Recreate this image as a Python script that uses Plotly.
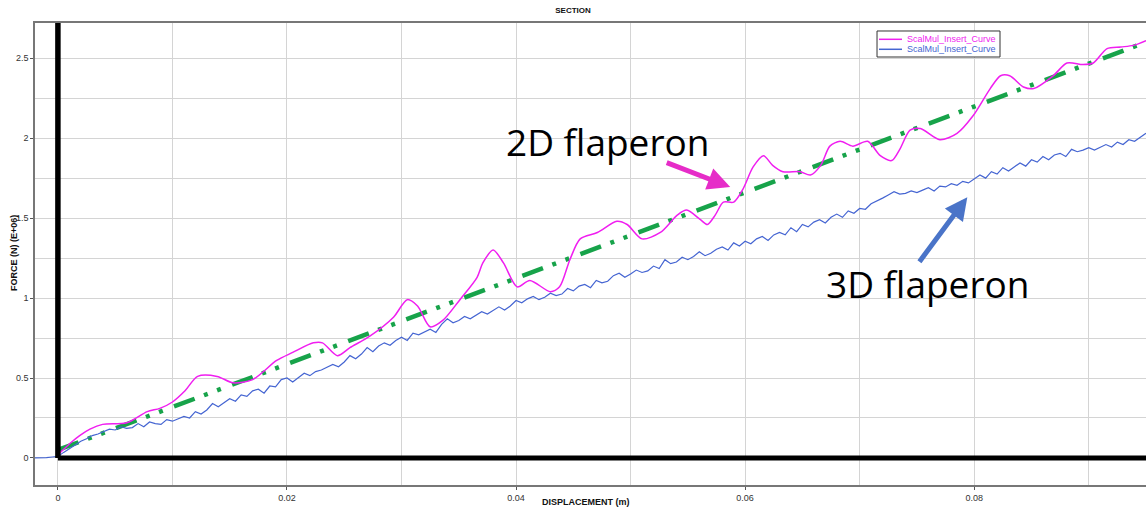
import numpy as np
import plotly.graph_objects as go

# ---------------- data ----------------
# 2D flaperon (magenta) : displacement (m), force (N, E+06)
disp_2d = [0.0, 0.0012, 0.0019, 0.0028, 0.0039, 0.0060, 0.0078, 0.0089, 0.0100, 0.0111,
           0.0122, 0.0139, 0.0153, 0.0170, 0.0191, 0.0205, 0.0223, 0.0231, 0.0244, 0.0255,
           0.0272, 0.0293, 0.0305, 0.0314, 0.0325, 0.0336, 0.0351, 0.0366, 0.0371, 0.0380,
           0.0389, 0.0401, 0.0412, 0.0430, 0.0438, 0.0447, 0.0456, 0.0471, 0.0488, 0.0497,
           0.0510, 0.0526, 0.0541, 0.0549, 0.0561, 0.0567, 0.0574, 0.0581, 0.0590, 0.0598,
           0.0607, 0.0616, 0.0624, 0.0633, 0.0648, 0.0657, 0.0666, 0.0674, 0.0683, 0.0694,
           0.0707, 0.0718, 0.0728, 0.0735, 0.0744, 0.0753, 0.0770, 0.0785, 0.0799, 0.0814,
           0.0823, 0.0831, 0.0843, 0.0852, 0.0869, 0.0881, 0.0895, 0.0904, 0.0916, 0.0928,
           0.0939, 0.0950]
force_2d = [0.02, 0.10, 0.14, 0.18, 0.21, 0.22, 0.29, 0.31, 0.35, 0.42,
            0.51, 0.51, 0.47, 0.49, 0.61, 0.66, 0.72, 0.72, 0.64, 0.69,
            0.76, 0.88, 0.99, 0.95, 0.82, 0.86, 0.99, 1.13, 1.22, 1.30,
            1.22, 1.07, 1.11, 1.04, 1.07, 1.24, 1.37, 1.41, 1.48, 1.46,
            1.37, 1.41, 1.52, 1.55, 1.49, 1.46, 1.52, 1.60, 1.60, 1.68,
            1.82, 1.89, 1.83, 1.79, 1.79, 1.77, 1.83, 1.95, 1.98, 1.95,
            1.98, 1.89, 1.86, 1.93, 2.05, 2.06, 1.99, 2.03, 2.14, 2.31,
            2.39, 2.39, 2.32, 2.31, 2.39, 2.47, 2.46, 2.47, 2.56, 2.57,
            2.58, 2.61]

# 3D flaperon (blue) : sampled every 0.0005 m from 0 to 0.095 m, plus the pre-load part
disp_3d_pre = [-0.0020, -0.0015, -0.0010, -0.0005]
force_3d_pre = [0.0, 0.0, 0.002, 0.006]
disp_3d = list(np.round(np.arange(0.0, 0.09501, 0.0005), 4))
force_3d = [0.010, 0.035, 0.060, 0.085, 0.105, 0.120, 0.140, 0.150, 0.165, 0.180,
            0.175, 0.195, 0.185, 0.190, 0.215, 0.195, 0.225, 0.215, 0.210, 0.240,
            0.230, 0.245, 0.260, 0.250, 0.290, 0.275, 0.300, 0.340, 0.320, 0.345,
            0.370, 0.355, 0.395, 0.385, 0.420, 0.430, 0.405, 0.450, 0.445, 0.490,
            0.500, 0.475, 0.505, 0.530, 0.515, 0.540, 0.550, 0.565, 0.585, 0.570,
            0.600, 0.640, 0.620, 0.650, 0.690, 0.665, 0.700, 0.720, 0.705, 0.735,
            0.755, 0.735, 0.780, 0.770, 0.790, 0.805, 0.785, 0.835, 0.870, 0.845,
            0.860, 0.885, 0.870, 0.890, 0.915, 0.900, 0.920, 0.945, 0.925, 0.950,
            0.985, 0.970, 0.995, 1.010, 0.990, 1.005, 1.030, 1.015, 1.025, 1.060,
            1.045, 1.075, 1.085, 1.065, 1.110, 1.095, 1.105, 1.140, 1.155, 1.130,
            1.150, 1.175, 1.160, 1.170, 1.200, 1.185, 1.240, 1.215, 1.225, 1.255,
            1.240, 1.260, 1.290, 1.265, 1.280, 1.305, 1.320, 1.300, 1.345, 1.325,
            1.355, 1.340, 1.370, 1.385, 1.360, 1.395, 1.410, 1.395, 1.440, 1.415,
            1.460, 1.445, 1.475, 1.490, 1.470, 1.505, 1.525, 1.505, 1.545, 1.530,
            1.560, 1.555, 1.590, 1.605, 1.625, 1.645, 1.665, 1.650, 1.655, 1.670,
            1.660, 1.675, 1.690, 1.670, 1.700, 1.695, 1.715, 1.705, 1.730, 1.720,
            1.745, 1.770, 1.750, 1.790, 1.775, 1.815, 1.795, 1.820, 1.845, 1.825,
            1.865, 1.850, 1.885, 1.865, 1.895, 1.905, 1.885, 1.930, 1.915, 1.925,
            1.940, 1.925, 1.945, 1.960, 1.945, 1.975, 1.960, 1.990, 1.980, 2.005,
            2.030]

# linear reference (green dash-dot-dot)
disp_lin = [0.0, 0.095]
force_lin = [0.05, 2.60]

x_ticks = [0, 0.02, 0.04, 0.06, 0.08]
x_tick_labels = ["0", "0.02", "0.04", "0.06", "0.08"]
y_ticks = [0, 0.5, 1, 1.5, 2, 2.5]
y_tick_labels = ["0", "0.5", "1", "1.5", "2", "2.5"]

series_name = "ScalMul_Insert_Curve"

# ---------------- figure ----------------
MAGENTA = "#f01ef0"
BLUE = "#4565d2"
GREEN = "#17a34a"

fig = go.Figure()

fig.add_trace(go.Scatter(
    x=disp_lin, y=force_lin, mode="lines", showlegend=False,
    line=dict(color=GREEN, width=4.5, dash="22px,10px,4px,10px,4px,12px"),
    hoverinfo="skip"))

fig.add_trace(go.Scatter(
    x=disp_2d, y=force_2d, mode="lines", name=series_name, showlegend=False,
    line=dict(color=MAGENTA, width=1.5, shape="spline", smoothing=0.8)))

fig.add_trace(go.Scatter(
    x=disp_3d_pre + disp_3d, y=force_3d_pre + force_3d, mode="lines",
    name=series_name, showlegend=False,
    line=dict(color=BLUE, width=1.2)))

X_RANGE = [-0.002, 0.0950]
Y_RANGE = [-0.169, 2.72]

# thick black axes drawn through the origin
fig.add_shape(type="line", xref="x", yref="y", x0=0, x1=0, y0=0, y1=Y_RANGE[1],
              line=dict(color="black", width=5.5), layer="above")
fig.add_shape(type="line", xref="x", yref="y", x0=0, x1=X_RANGE[1], y0=0, y1=0,
              line=dict(color="black", width=5), layer="above")

# compact legend box (same look as the reference's legend)
fig.add_shape(type="rect", xref="paper", yref="paper", x0=0.7579, x1=0.8686,
              y0=0.9264, y1=0.9827, line=dict(color="#333", width=1),
              fillcolor="white", layer="above")
legend_rows = [(MAGENTA, 0.9647), (BLUE, 0.9431)]
for color, ypos in legend_rows:
    fig.add_shape(type="line", xref="paper", yref="paper", x0=0.7597, x1=0.7804,
                  y0=ypos, y1=ypos, line=dict(color=color, width=1.5), layer="above")
    fig.add_annotation(x=0.7831, y=ypos, xref="paper", yref="paper", text=series_name,
                       showarrow=False, xanchor="left", yanchor="middle",
                       font=dict(family="Liberation Sans, Arial", size=9, color=color))

# callout texts and arrows
fig.add_annotation(x=0.04795, y=1.98, xref="x", yref="y", text="2D flaperon",
                   showarrow=False, font=dict(family="Open Sans", size=37, color="black"))
fig.add_annotation(x=0.0759, y=1.09, xref="x", yref="y", text="3D flaperon",
                   showarrow=False, font=dict(family="Open Sans", size=37, color="black"))
fig.add_annotation(x=0.0587, y=1.694, xref="x", yref="y", text="", showarrow=True,
                   ax=-65, ay=-25, arrowhead=2, arrowsize=0.9, arrowwidth=5,
                   arrowcolor="#e62cc8")
fig.add_annotation(x=0.0794, y=1.631, xref="x", yref="y", text="", showarrow=True,
                   ax=-49, ay=66, arrowhead=2, arrowsize=0.9, arrowwidth=5,
                   arrowcolor="#4a74c8")

tick_font = dict(family="Liberation Sans Narrow, Arial Narrow, Liberation Sans, Arial", size=9, color="#333")
title_font = dict(family="Liberation Sans Narrow, Arial Narrow, Liberation Sans, Arial", size=9, color="#111")

# axis titles
fig.add_annotation(x=0.496, y=-0.0368, xref="paper", yref="paper",
                   text="<b>DISPLACEMENT (m)</b>", showarrow=False,
                   xanchor="center", yanchor="middle", font=title_font)
fig.add_annotation(x=-0.0189, y=0.502, xref="paper", yref="paper",
                   text="<b>FORCE (N) (E+06)</b>", showarrow=False, textangle=-90,
                   xanchor="center", yanchor="middle", font=title_font)

fig.update_layout(
    width=1146, height=512,
    margin=dict(l=35, r=0, t=23, b=27),
    paper_bgcolor="white", plot_bgcolor="white",
    title=dict(text="<b>SECTION</b>", x=0.5, xanchor="center", y=0.985, yanchor="top",
               font=dict(family="Liberation Sans, Arial", size=8, color="#111")),
    showlegend=False,
)

fig.update_xaxes(
    range=X_RANGE, tickvals=x_ticks, ticktext=x_tick_labels,
    showgrid=True, gridcolor="#d4d4d4", gridwidth=1,
    minor=dict(dtick=0.01, tick0=0, showgrid=True, gridcolor="#d4d4d4", gridwidth=1, ticks=""),
    ticks="outside", ticklen=3, tickcolor="#555",
    showline=True, linecolor="#777", linewidth=1.5, mirror=True,
    zeroline=False, tickfont=tick_font, automargin=False,
)
fig.update_yaxes(
    range=Y_RANGE, tickvals=y_ticks, ticktext=y_tick_labels,
    showgrid=True, gridcolor="#d4d4d4", gridwidth=1,
    minor=dict(dtick=0.25, tick0=0, showgrid=True, gridcolor="#d4d4d4", gridwidth=1, ticks=""),
    ticks="outside", ticklen=3, tickcolor="#555",
    showline=True, linecolor="#777", linewidth=1.5, mirror=True,
    zeroline=False, tickfont=tick_font, automargin=False,
)

fig.write_html("out.html", config={"displayModeBar": False},
               post_script="document.body.style.margin='0px';document.body.style.overflow='hidden';")
